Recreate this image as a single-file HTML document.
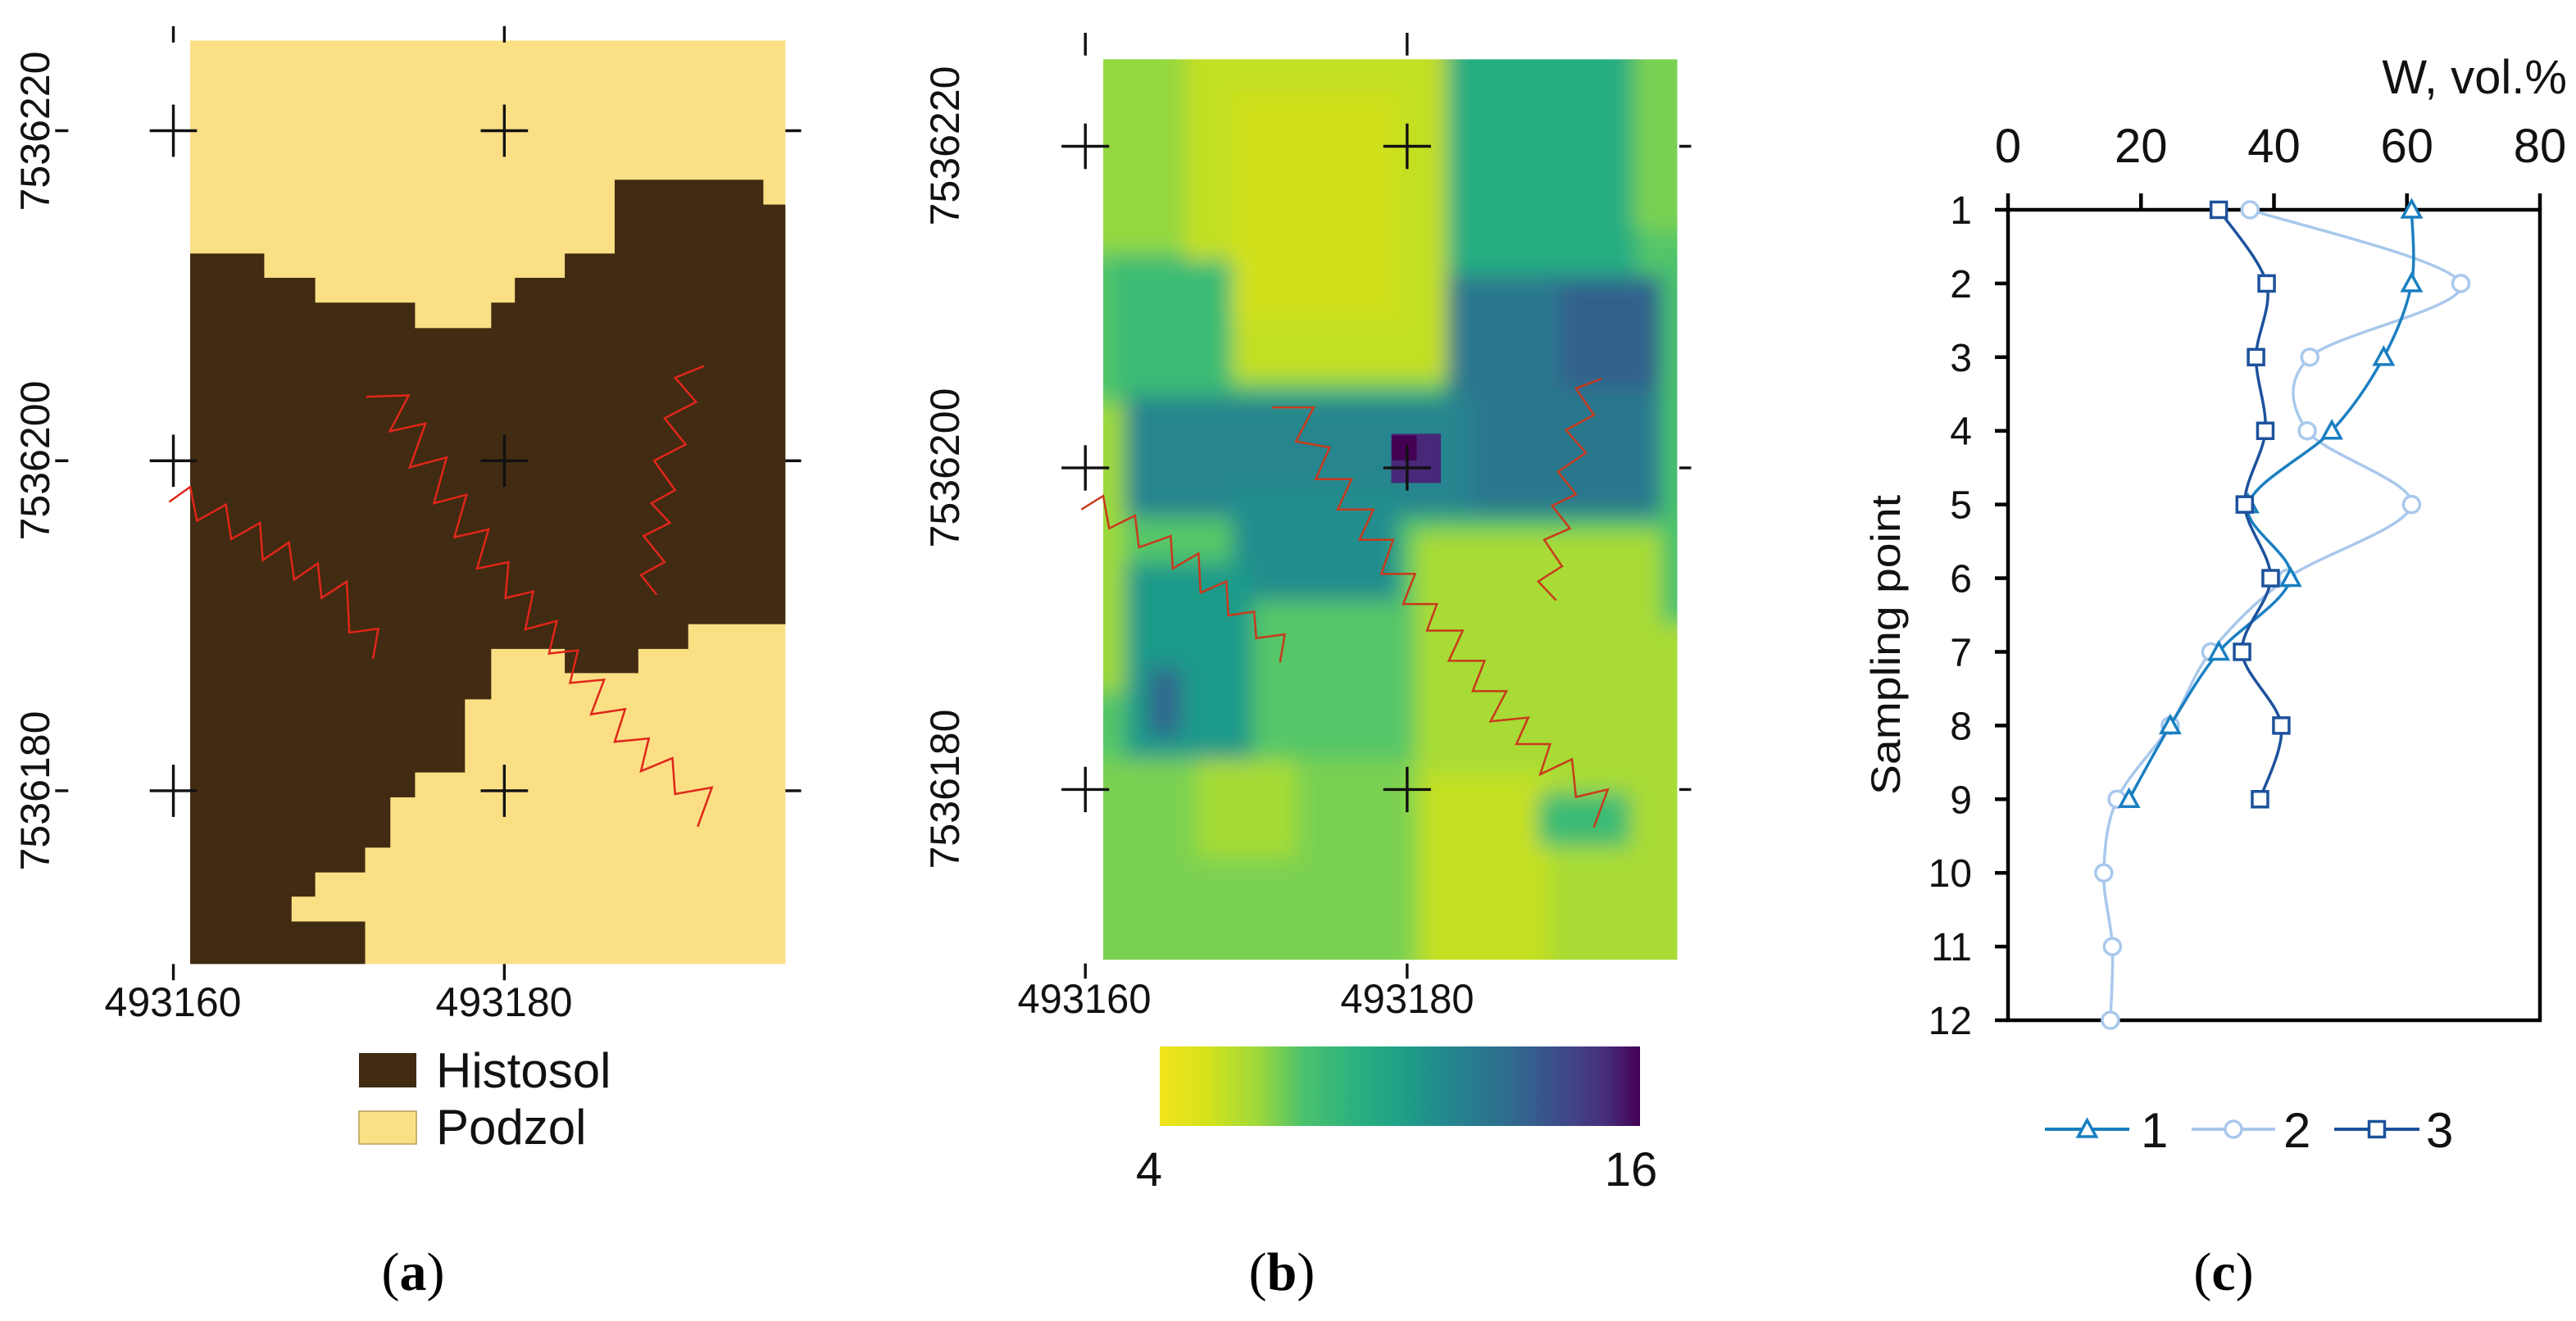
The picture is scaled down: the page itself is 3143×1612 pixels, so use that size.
<!DOCTYPE html>
<html><head><meta charset="utf-8">
<style>
html,body{margin:0;padding:0;background:#fff;}
svg{display:block;font-family:"Liberation Sans",Arial,sans-serif;}
</style></head>
<body>
<svg id="fig" width="3143" height="1612" viewBox="0 0 3143 1612" xmlns="http://www.w3.org/2000/svg">
<defs>
  <clipPath id="clipB"><rect x="95" y="35" width="1445" height="1190"/></clipPath>
  <filter id="blurB" x="-5%" y="-5%" width="110%" height="110%"><feGaussianBlur stdDeviation="26 14"/></filter>
  <linearGradient id="viridisR" x1="0" x2="1" y1="0" y2="0">
    <stop offset="0" stop-color="#f2e41d"/>
    <stop offset="0.1" stop-color="#d4e21a"/>
    <stop offset="0.2" stop-color="#a0da39"/>
    <stop offset="0.3" stop-color="#4ac16d"/>
    <stop offset="0.4" stop-color="#2db27d"/>
    <stop offset="0.5" stop-color="#1fa187"/>
    <stop offset="0.6" stop-color="#24868e"/>
    <stop offset="0.7" stop-color="#2c728e"/>
    <stop offset="0.78" stop-color="#365c8d"/>
    <stop offset="0.86" stop-color="#414487"/>
    <stop offset="0.93" stop-color="#472d7b"/>
    <stop offset="1" stop-color="#440154"/>
  </linearGradient>
</defs>

<!-- ================= Panel A ================= -->
<g>
 <g transform="scale(0.641,0.7975)">
  <rect x="362" y="62" width="1133" height="1413" fill="#fbdf85"/>
  <polygon fill="#412b12" points="362,388 503,388 503,425 600,425 600,463 790,463 790,502 935,502 935,463 980,463 980,425 1075,425 1075,388 1170,388 1170,275 1453,275 1453,313 1495,313 1495,955 1310,955 1310,993 1215,993 1215,1030 1075,1030 1075,993 935,993 935,1070 885,1070 885,1182 790,1182 790,1220 743,1220 743,1297 695,1297 695,1335 600,1335 600,1372 555,1372 555,1410 695,1410 695,1475 362,1475"/>
  <g fill="none" stroke="#e0261a" stroke-width="2.5" stroke-linejoin="miter">
   <polyline vector-effect="non-scaling-stroke" points="322,768 362,745 375,797 430,772 440,825 495,800 500,857 550,830 560,887 605,862 612,915 660,890 665,968 720,962 710,1008"/>
   <polyline vector-effect="non-scaling-stroke" points="697,607 778,605 742,660 810,648 780,715 850,700 826,770 888,757 865,822 930,810 908,870 968,860 962,915 1015,905 1000,963 1060,950 1045,1000 1100,995 1085,1045 1150,1040 1125,1093 1190,1085 1170,1135 1235,1130 1220,1180 1280,1160 1285,1215 1355,1205 1328,1265"/>
   <polyline vector-effect="non-scaling-stroke" points="1340,560 1285,578 1325,615 1265,640 1305,680 1245,705 1285,750 1240,770 1275,800 1225,820 1265,860 1220,880 1250,910"/>
  </g>
  <g stroke="#111" stroke-width="3.4" fill="none">
   <path vector-effect="non-scaling-stroke" d="M285,200H375M330,160V240 M915,200H1005M960,160V240 M285,705H375M330,665V745 M915,705H1005M960,665V745 M285,1210H375M330,1170V1250 M915,1210H1005M960,1170V1250 M330,40V65 M960,40V65 M330,1475V1500 M960,1475V1500 M1495,200H1525 M1495,705H1525 M1495,1210H1525 M105,200H130 M105,705H130 M105,1210H130"/>
  </g>
 </g>
 <g font-size="50" fill="#111">
  <text transform="translate(60,160) rotate(-90)" text-anchor="middle" textLength="195" lengthAdjust="spacingAndGlyphs">7536220</text>
  <text transform="translate(60,562) rotate(-90)" text-anchor="middle" textLength="195" lengthAdjust="spacingAndGlyphs">7536200</text>
  <text transform="translate(60,965) rotate(-90)" text-anchor="middle" textLength="195" lengthAdjust="spacingAndGlyphs">7536180</text>
  <text x="211" y="1240" text-anchor="middle" textLength="167" lengthAdjust="spacingAndGlyphs">493160</text>
  <text x="615" y="1240" text-anchor="middle" textLength="167" lengthAdjust="spacingAndGlyphs">493180</text>
 </g>
 <g>
  <rect x="438" y="1285" width="70" height="42" fill="#412b12"/>
  <text x="532" y="1327" font-size="60" fill="#111">Histosol</text>
  <rect x="438" y="1356" width="70" height="40" fill="#fbdf85" stroke="#b79c5c" stroke-width="1.5"/>
  <text x="532" y="1396" font-size="60" fill="#111">Podzol</text>
 </g>
 <text x="504" y="1574" text-anchor="middle" font-family="'Liberation Serif',serif" font-size="66" fill="#000">(<tspan font-weight="bold">a</tspan>)</text>
</g>

<!-- ================= Panel B ================= -->
<g>
 <g transform="translate(1300,40) scale(0.4847,0.9234)">
  <g clip-path="url(#clipB)">
   <g filter="url(#blurB)">
    <rect x="40" y="0" width="1560" height="1280" fill="#55c667"/>
    <rect x="40" y="0" width="280" height="290" fill="#94d840"/>
    <rect x="300" y="0" width="660" height="460" fill="#c2df23"/>
    <rect x="420" y="80" width="420" height="300" fill="#d0e11c"/>
    <rect x="960" y="0" width="480" height="320" fill="#27ad81"/>
    <rect x="1430" y="0" width="170" height="260" fill="#7ad151"/>
    <rect x="120" y="300" width="300" height="180" fill="#3bbb75"/>
    <rect x="960" y="320" width="560" height="320" fill="#2a788e"/>
    <rect x="1240" y="330" width="260" height="140" fill="#33608d"/>
    <rect x="150" y="480" width="860" height="160" fill="#25858e"/>
    <rect x="420" y="600" width="420" height="150" fill="#228d8d"/>
    <rect x="40" y="490" width="110" height="380" fill="#9dd93b"/>
    <rect x="150" y="700" width="320" height="280" fill="#1f9a8a"/>
    <rect x="210" y="840" width="80" height="90" fill="#31668e"/>
    <rect x="40" y="960" width="860" height="320" fill="#7ad151"/>
    <rect x="330" y="960" width="250" height="130" fill="#a5db36"/>
    <rect x="880" y="660" width="720" height="620" fill="#a8db34"/>
    <rect x="900" y="980" width="320" height="300" fill="#c5e021"/>
    <rect x="1190" y="1005" width="230" height="70" fill="#3bbb75"/>
    <rect x="1500" y="300" width="100" height="480" fill="#4ac16d"/>
   </g>
   <rect x="820" y="530" width="125" height="65" fill="#482878"/>
   <rect x="822" y="532" width="62" height="33" fill="#440154"/>
  </g>
  <g fill="none" stroke="#c83a1c" stroke-width="2.5">
   <polyline vector-effect="non-scaling-stroke" points="40,630 95,612 110,655 175,638 185,680 265,665 270,708 335,688 340,740 405,725 410,770 475,765 480,800 552,795 540,832"/>
   <polyline vector-effect="non-scaling-stroke" points="520,495 625,495 580,540 665,548 630,590 720,590 685,630 775,630 740,670 825,670 795,715 880,715 850,755 935,755 910,790 1000,790 965,830 1055,830 1025,870 1110,870 1070,910 1165,905 1135,940 1220,940 1195,980 1275,960 1285,1010 1365,1000 1330,1050"/>
   <polyline vector-effect="non-scaling-stroke" points="1350,457 1285,470 1330,505 1260,525 1310,555 1240,580 1285,610 1225,625 1270,655 1205,670 1250,705 1190,725 1235,750"/>
  </g>
  <path vector-effect="non-scaling-stroke" stroke="#111" stroke-width="3.4" fill="none" d="M-10,150H110M50,120V180 M800,150H920M860,120V180 M-10,575H110M50,545V605 M800,575H920M860,545V605 M-10,1000H110M50,970V1030 M800,1000H920M860,970V1030 M50,0V30 M860,0V30 M50,1230V1250 M860,1230V1250 M1545,150H1575 M1545,575H1575 M1545,1000H1575"/>
 </g>
 <g font-size="50" fill="#111">
  <text transform="translate(1170,178) rotate(-90)" text-anchor="middle" textLength="195" lengthAdjust="spacingAndGlyphs">7536220</text>
  <text transform="translate(1170,571) rotate(-90)" text-anchor="middle" textLength="195" lengthAdjust="spacingAndGlyphs">7536200</text>
  <text transform="translate(1170,963) rotate(-90)" text-anchor="middle" textLength="195" lengthAdjust="spacingAndGlyphs">7536180</text>
  <text x="1323" y="1236" text-anchor="middle" textLength="163" lengthAdjust="spacingAndGlyphs">493160</text>
  <text x="1717" y="1236" text-anchor="middle" textLength="163" lengthAdjust="spacingAndGlyphs">493180</text>
 </g>
 <rect x="1415" y="1277" width="586" height="97" fill="url(#viridisR)"/>
 <text x="1402" y="1447" text-anchor="middle" font-size="58" fill="#111">4</text>
 <text x="1990" y="1447" text-anchor="middle" font-size="58" fill="#111">16</text>
 <text x="1564" y="1574" text-anchor="middle" font-family="'Liberation Serif',serif" font-size="66" fill="#000">(<tspan font-weight="bold">b</tspan>)</text>
</g>

<!-- ================= Panel C ================= -->
<g id="panelC"></g>
<text x="2713" y="1574" text-anchor="middle" font-family="'Liberation Serif',serif" font-size="66" fill="#000">(<tspan font-weight="bold">c</tspan>)</text>
</svg>

<script>
const xTicks = [0, 20, 40, 60, 80];
const yCats = [1,2,3,4,5,6,7,8,9,10,11,12];
const series1 = [60.7, 60.7, 56.5, 48.7, 36.1, 42.5, 31.7, 24.4, 18.2];
const series2 = [36.4, 68.1, 45.4, 45.0, 60.7, 42.0, 30.5, 24.4, 16.4, 14.4, 15.7, 15.4];
const series3 = [31.7, 38.9, 37.3, 38.7, 35.6, 39.5, 35.2, 41.1, 37.9];
const seriesNames = ["1", "2", "3"];

(function(){
  const NS = "http://www.w3.org/2000/svg";
  const g = document.getElementById("panelC");
  const L = 2450, R = 3099, T = 256, B = 1245;
  const xS = v => L + (v - 0) / (80 - 0) * (R - L);
  const yS = c => T + (c - 1) / (12 - 1) * (B - T);
  function mk(tag, attrs, parent){
    const e = document.createElementNS(NS, tag);
    for (const k in attrs) e.setAttribute(k, attrs[k]);
    (parent || g).appendChild(e);
    return e;
  }
  const frame = mk("rect", {x:L, y:T, width:R-L, height:B-T, fill:"none", stroke:"#000", "stroke-width":4.5});
  
  
  xTicks.forEach(v => {
    const t = mk("line", {x1:xS(v), x2:xS(v), y1:T, y2:T-20, stroke:"#000", "stroke-width":4.5});
    
    
    const lb = mk("text", {x:xS(v), y:198, "text-anchor":"middle", "font-size":58, fill:"#111"});
    lb.textContent = v;
    
    
  });
  yCats.forEach(c => {
    const t = mk("line", {x1:L-16, x2:L, y1:yS(c), y2:yS(c), stroke:"#000", "stroke-width":4.5});
    
    
    const lb = mk("text", {x:2406, y:yS(c)+17, "text-anchor":"end", "font-size":48, fill:"#111"});
    lb.textContent = c;
    
    
  });
  const xt = mk("text", {x:3132, y:114, "text-anchor":"end", "font-size":58, fill:"#111"});
  xt.textContent = "W, vol.%";
  
  
  const yt = mk("text", {transform:"translate(2318,787) rotate(-90)", "text-anchor":"middle", "font-size":50, fill:"#111", textLength:366, lengthAdjust:"spacingAndGlyphs"});
  yt.textContent = "Sampling point";
  
  

  function smooth(pts){
    let d = "M" + pts[0][0] + "," + pts[0][1];
    for (let i = 0; i < pts.length - 1; i++){
      const p0 = pts[i-1] || pts[i], p1 = pts[i], p2 = pts[i+1], p3 = pts[i+2] || p2;
      const k = 0.16;
      const c1 = [p1[0] + (p2[0]-p0[0])*k, p1[1] + (p2[1]-p0[1])*k];
      const c2 = [p2[0] - (p3[0]-p1[0])*k, p2[1] - (p3[1]-p1[1])*k];
      d += " C" + c1.join(",") + " " + c2.join(",") + " " + p2.join(",");
    }
    return d;
  }
  function marker(kind, x, y, color, parent){
    let m;
    if (kind === "tri") m = mk("path", {d:`M${x},${y-11} L${x+11},${y+9} L${x-11},${y+9} Z`, fill:"#fff", stroke:color, "stroke-width":3.5}, parent);
    else if (kind === "circ") m = mk("circle", {cx:x, cy:y, r:10, fill:"#fff", stroke:color, "stroke-width":3.5}, parent);
    else m = mk("rect", {x:x-9.5, y:y-9.5, width:19, height:19, fill:"#fff", stroke:color, "stroke-width":3.5}, parent);
    return m;
  }
  const defs = [
    {vals: series2, color:"#a8c8ec", kind:"circ", name:"series-2"},
    {vals: series1, color:"#1a7fc1", kind:"tri", name:"series-1"},
    {vals: series3, color:"#1d529c", kind:"sq", name:"series-3"}
  ];
  defs.forEach(s => {
    const sg = mk("g", {});
    
    
    const pts = s.vals.map((v,i) => [xS(v), yS(yCats[i])]);
    const ln = mk("path", {d:smooth(pts), fill:"none", stroke:s.color, "stroke-width":3.5}, sg);
    
    
    pts.forEach(p => {
      const m = marker(s.kind, p[0], p[1], s.color, sg);
      
      
    });
  });
  const leg = [
    {x1:2495, x2:2598, lx:2612, color:"#1a7fc1", kind:"tri"},
    {x1:2674, x2:2776, lx:2786, color:"#a8c8ec", kind:"circ"},
    {x1:2848, x2:2952, lx:2960, color:"#1d529c", kind:"sq"}
  ];
  const ly = 1378;
  leg.forEach((l,i) => {
    const lg = mk("g", {});
    
    
    mk("line", {x1:l.x1, x2:l.x2, y1:ly, y2:ly, stroke:l.color, "stroke-width":4}, lg);
    marker(l.kind, (l.x1+l.x2)/2, ly, l.color, lg);
    const t = mk("text", {x:l.lx, y:ly+22, "font-size":60, fill:"#111"}, lg);
    t.textContent = seriesNames[i];
  });
})();
</script>
</body></html>
